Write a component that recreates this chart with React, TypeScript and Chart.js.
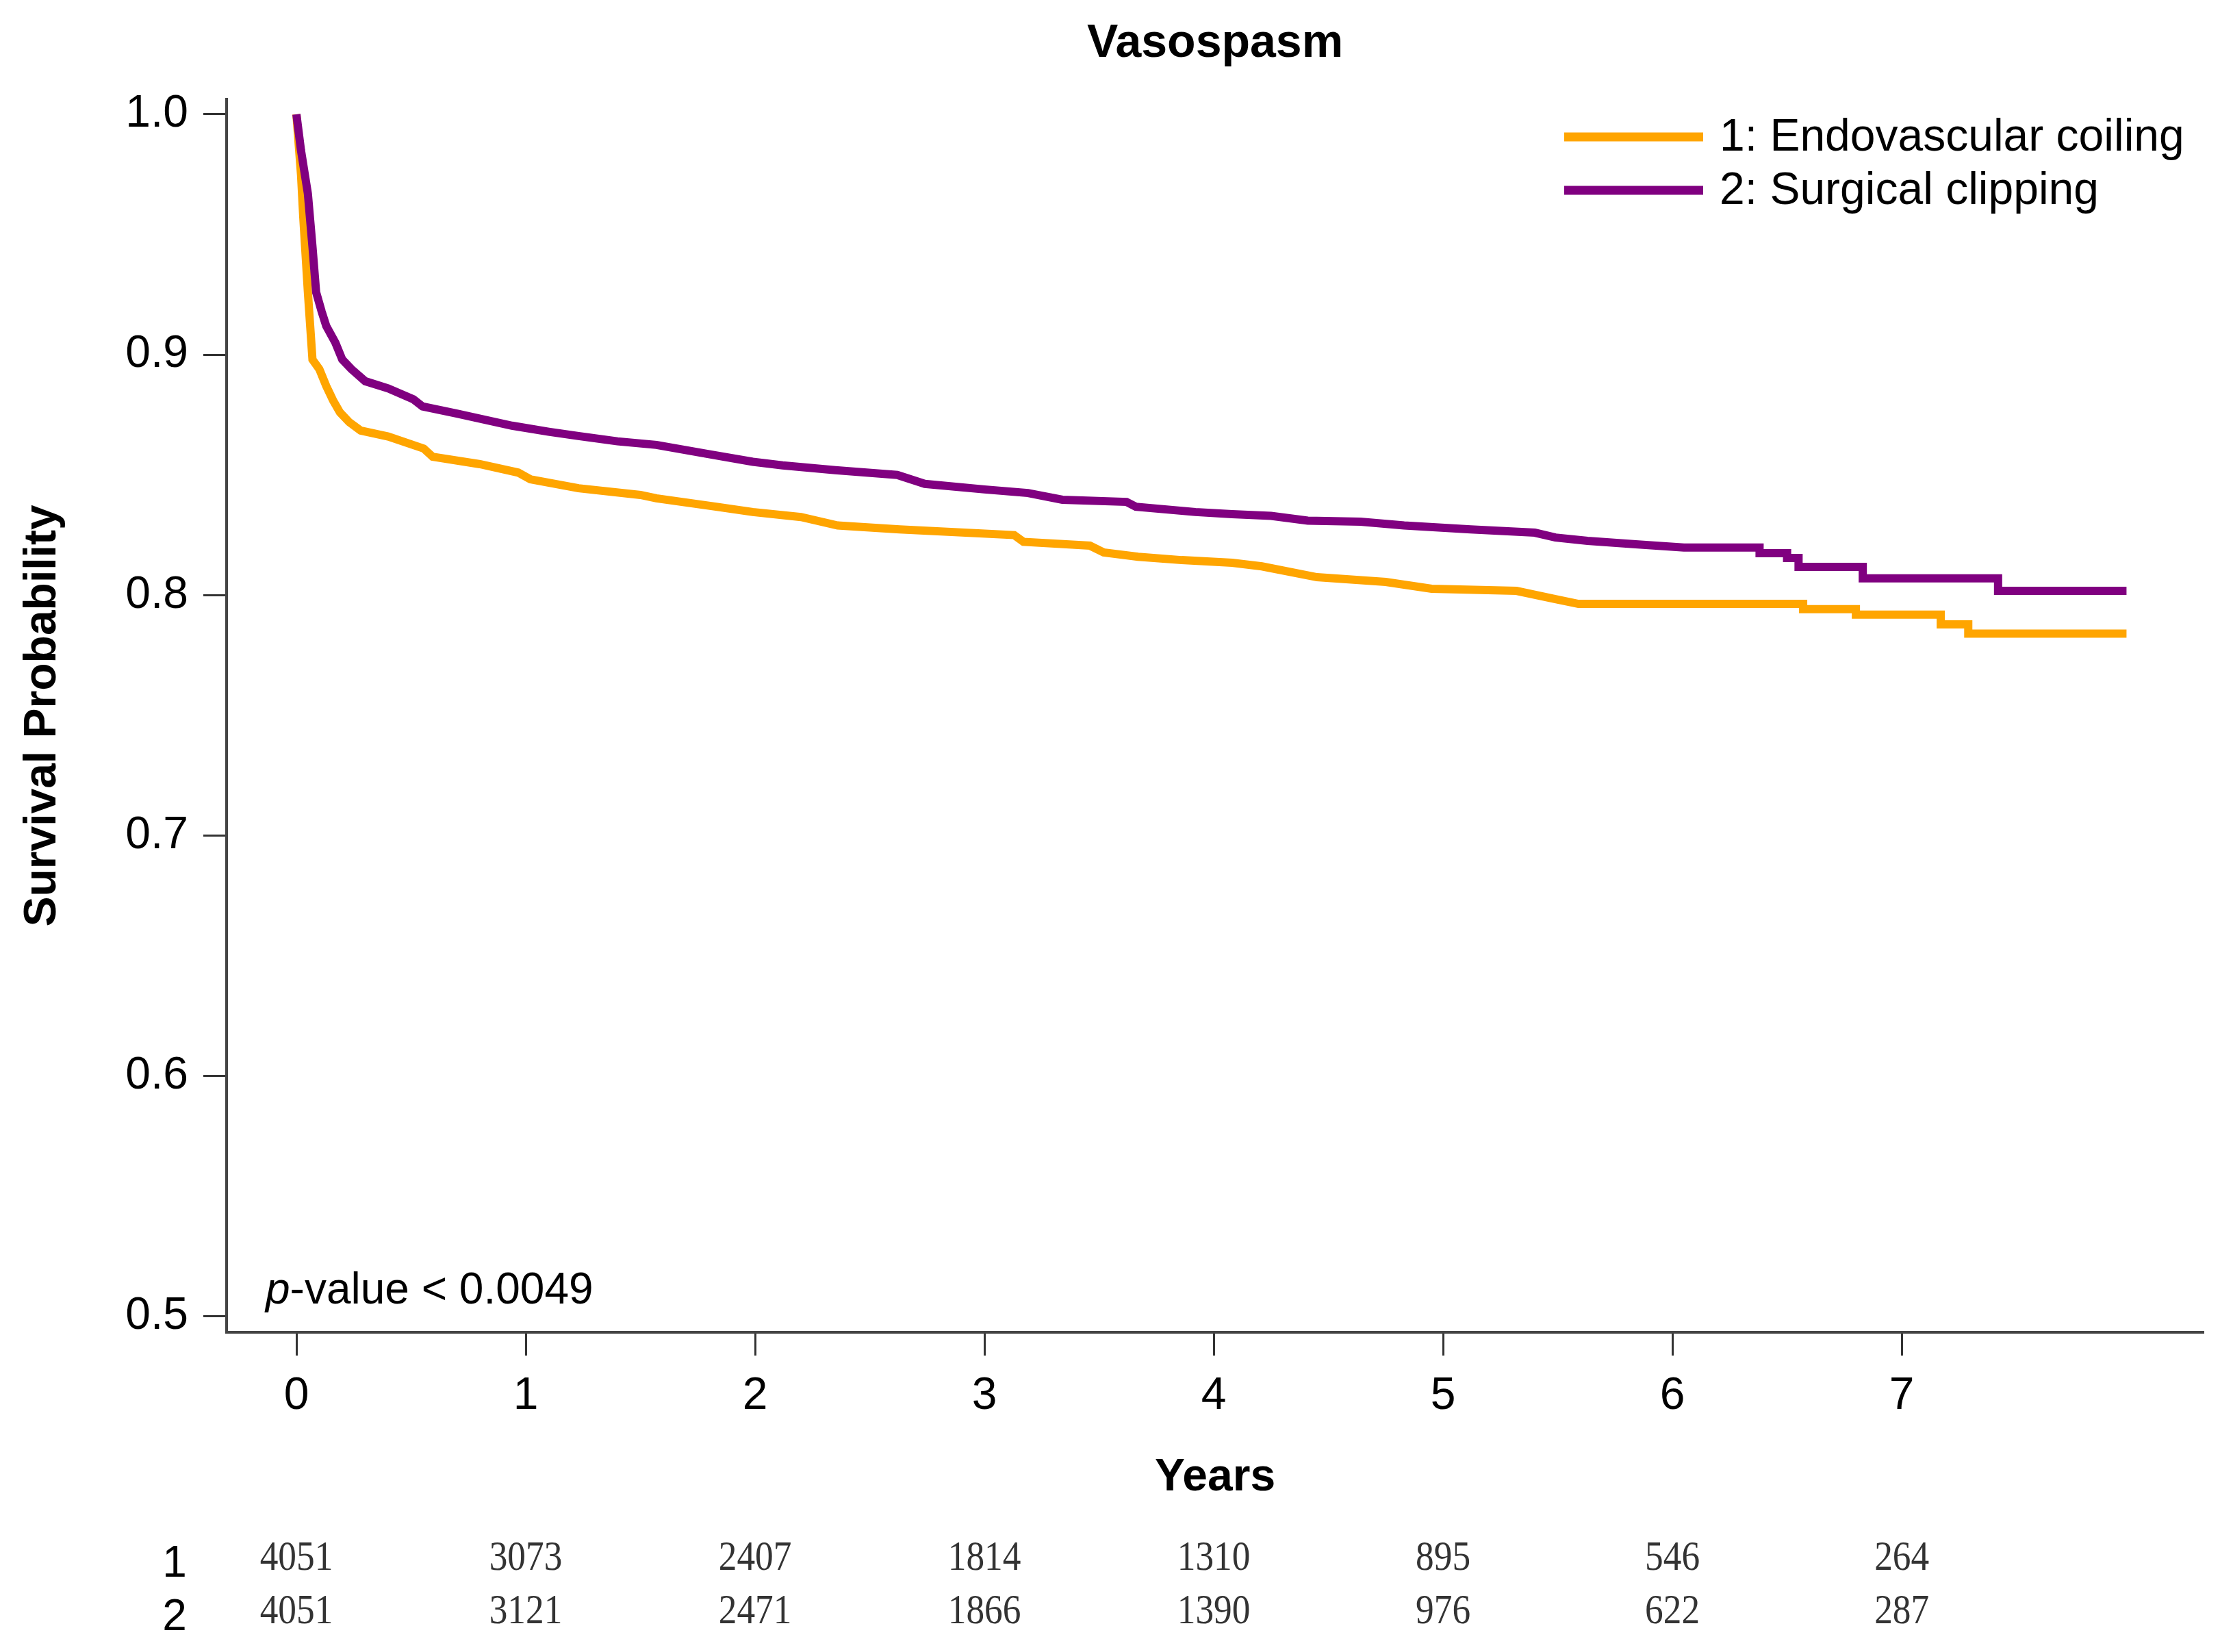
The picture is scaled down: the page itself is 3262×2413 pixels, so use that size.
import React, { useEffect, useRef } from 'react';
import { Chart, registerables } from 'chart.js';

Chart.register(...registerables);

const chartTitle = 'Vasospasm';
const xAxisTitle = 'Years';
const yAxisTitle = 'Survival Probability';
const seriesLabels = ['1: Endovascular coiling', '2: Surgical clipping'];
const seriesColors = ['#FFA500', '#800080'];

// Endovascular coiling (group 1); repeated years mark a vertical step
const coilingYears = [0, 0.02, 0.03, 0.05, 0.07, 0.1, 0.13, 0.16, 0.19, 0.23, 0.28, 0.4, 0.555, 0.594, 0.8, 0.967, 1.02, 1.23, 1.5, 1.57, 1.83, 1.99, 2.2, 2.36, 2.63, 3.13, 3.17, 3.46, 3.52, 3.67, 3.86, 4.08, 4.21, 4.45, 4.75, 4.95, 5.32, 5.49, 5.59, 6.57, 6.57, 6.8, 6.8, 7.17, 7.17, 7.29, 7.29, 7.98];
const coilingSurv = [1.0, 0.975, 0.957, 0.926, 0.898, 0.894, 0.887, 0.881, 0.876, 0.872, 0.8685, 0.866, 0.861, 0.8576, 0.8545, 0.851, 0.8482, 0.8445, 0.8417, 0.8403, 0.8368, 0.8346, 0.8325, 0.829, 0.8274, 0.825, 0.8222, 0.8206, 0.8178, 0.816, 0.8146, 0.8135, 0.812, 0.8075, 0.8055, 0.8027, 0.8018, 0.7984, 0.7964, 0.7964, 0.7942, 0.7942, 0.7919, 0.7919, 0.7879, 0.7879, 0.784, 0.784];

// Surgical clipping (group 2)
const clippingYears = [0, 0.02, 0.05, 0.07, 0.086, 0.11, 0.13, 0.17, 0.2, 0.24, 0.3, 0.4, 0.51, 0.55, 0.7, 0.94, 1.1, 1.23, 1.4, 1.57, 1.79, 1.99, 2.12, 2.35, 2.62, 2.74, 3.0, 3.19, 3.34, 3.62, 3.66, 3.92, 4.08, 4.25, 4.41, 4.64, 4.83, 5.12, 5.4, 5.49, 5.63, 5.84, 6.05, 6.38, 6.38, 6.5, 6.5, 6.55, 6.55, 6.83, 6.83, 7.42, 7.42, 7.98];
const clippingSurv = [1.0, 0.985, 0.967, 0.945, 0.926, 0.918, 0.912, 0.905, 0.898, 0.894, 0.889, 0.886, 0.8815, 0.8785, 0.8755, 0.8705, 0.868, 0.8662, 0.864, 0.8625, 0.8588, 0.8555, 0.854, 0.852, 0.85, 0.8463, 0.844, 0.8425, 0.8397, 0.8388, 0.8368, 0.8346, 0.8337, 0.833, 0.831, 0.8306, 0.829, 0.8274, 0.826, 0.824, 0.8226, 0.8212, 0.8198, 0.8198, 0.8175, 0.8175, 0.8155, 0.8155, 0.8118, 0.8118, 0.807, 0.807, 0.8018, 0.8018];

const xTickValues = [0, 1, 2, 3, 4, 5, 6, 7];
const yTickValues = [0.5, 0.6, 0.7, 0.8, 0.9, 1.0];

const riskGroups = ['1', '2'];
const riskCoiling = [4051, 3073, 2407, 1814, 1310, 895, 546, 264];
const riskClipping = [4051, 3121, 2471, 1866, 1390, 976, 622, 287];

const pValueItalic = 'p';
const pValueRest = '-value < 0.0049';

const SANS = '"Liberation Sans", Arial, sans-serif';
const SERIF = '"Liberation Serif", "Times New Roman", serif';

const W = 3262;
const H = 2413;

const annotationsPlugin = {
  id: 'kmAnnotations',
  afterDraw(chart: any) {
    const ctx = chart.ctx;
    const xs = chart.scales.x;
    ctx.save();
    // Title
    ctx.fillStyle = '#000';
    ctx.font = `bold 68px ${SANS}`;
    ctx.textAlign = 'center';
    ctx.textBaseline = 'middle';
    ctx.fillText(chartTitle, 1775, 64);

    // Legend
    const legendY = [200, 278];
    seriesLabels.forEach((lab, i) => {
      ctx.strokeStyle = seriesColors[i];
      ctx.lineWidth = 13;
      ctx.lineCap = 'butt';
      ctx.beginPath();
      ctx.moveTo(2285, legendY[i]);
      ctx.lineTo(2488, legendY[i]);
      ctx.stroke();
      ctx.fillStyle = '#000';
      ctx.font = `66px ${SANS}`;
      ctx.textAlign = 'left';
      ctx.textBaseline = 'middle';
      ctx.fillText(lab, 2512, legendY[i] + 2);
    });

    // p-value
    ctx.textAlign = 'left';
    ctx.textBaseline = 'alphabetic';
    ctx.font = `italic 64px ${SANS}`;
    ctx.fillText(pValueItalic, 388, 1904);
    const pw = ctx.measureText(pValueItalic).width;
    ctx.font = `64px ${SANS}`;
    ctx.fillText(pValueRest, 388 + pw, 1904);

    // Number at risk
    const rows = [riskCoiling, riskClipping];
    const rowY = [2277, 2355];
    rows.forEach((row, r) => {
      ctx.fillStyle = '#000';
      ctx.font = `64px ${SANS}`;
      ctx.textAlign = 'center';
      ctx.textBaseline = 'middle';
      ctx.fillText(riskGroups[r], 255, rowY[r] + 8);
      ctx.fillStyle = '#333';
      ctx.font = `62px ${SERIF}`;
      row.forEach((n, i) => {
        const px = xs.getPixelForValue(xTickValues[i]);
        ctx.save();
        ctx.translate(px, rowY[r]);
        ctx.scale(0.86, 1);
        ctx.fillText(String(n), 0, 0);
        ctx.restore();
      });
    });
    ctx.restore();
  },
};

export default function App() {
  const ref = useRef<HTMLCanvasElement | null>(null);

  useEffect(() => {
    if (!ref.current) return;
    const toPts = (xsArr: number[], ysArr: number[]) => xsArr.map((x, i) => ({ x, y: ysArr[i] }));
    const chart = new Chart(ref.current, {
      type: 'line',
      data: {
        datasets: [
          {
            label: seriesLabels[0],
            data: toPts(coilingYears, coilingSurv),
            borderColor: seriesColors[0],
            backgroundColor: seriesColors[0],
            borderWidth: 12,
            pointRadius: 0,
            tension: 0,
            fill: false,
            order: 1,
          },
          {
            label: seriesLabels[1],
            data: toPts(clippingYears, clippingSurv),
            borderColor: seriesColors[1],
            backgroundColor: seriesColors[1],
            borderWidth: 12,
            pointRadius: 0,
            tension: 0,
            fill: false,
            order: 0,
          },
        ],
      },
      options: {
        animation: false,
        responsive: false,
        events: [],
        layout: { padding: { left: 0, top: 145, right: 43, bottom: 0 } },
        plugins: {
          legend: { display: false },
          title: { display: false },
          tooltip: { enabled: false },
        },
        scales: {
          x: {
            type: 'linear',
            min: -0.3045,
            max: 8.316,
            afterBuildTicks: (s: any) => {
              s.ticks = xTickValues.map((v) => ({ value: v }));
            },
            afterFit: (s: any) => {
              s.height = 467;
            },
            grid: {
              drawOnChartArea: false,
              drawTicks: true,
              tickLength: 34,
              tickWidth: 3,
              tickColor: '#333',
            },
            border: { display: true, color: '#444', width: 4 },
            ticks: {
              font: { family: SANS, size: 66 },
              color: '#000',
              padding: 20,
              maxRotation: 0,
              autoSkip: false,
              callback: (v: any) => String(v),
            },
            title: {
              display: true,
              text: xAxisTitle,
              color: '#000',
              font: { family: SANS, size: 66, weight: 'bold' },
              padding: { top: 0, bottom: 215 },
            },
          },
          y: {
            type: 'linear',
            min: 0.49345,
            max: 1.00626,
            afterBuildTicks: (s: any) => {
              s.ticks = yTickValues.map((v) => ({ value: v }));
            },
            afterFit: (s: any) => {
              s.width = 331;
            },
            grid: {
              drawOnChartArea: false,
              drawTicks: true,
              tickLength: 34,
              tickWidth: 3,
              tickColor: '#333',
            },
            border: { display: true, color: '#444', width: 4 },
            ticks: {
              font: { family: SANS, size: 66 },
              color: '#000',
              padding: 22,
              autoSkip: false,
              callback: (v: any) => Number(v).toFixed(1),
            },
            title: {
              display: true,
              text: yAxisTitle,
              color: '#000',
              font: { family: SANS, size: 66, weight: 'bold' },
              padding: { top: 23, bottom: 0 },
            },
          },
        },
      } as any,
      plugins: [annotationsPlugin],
    });
    return () => chart.destroy();
  }, []);

  return (
    <div style={{ position: 'absolute', left: 0, top: 0, width: W, height: H, background: '#fff' }}>
      <canvas ref={ref} width={W} height={H} style={{ display: 'block', width: W, height: H }} />
    </div>
  );
}
